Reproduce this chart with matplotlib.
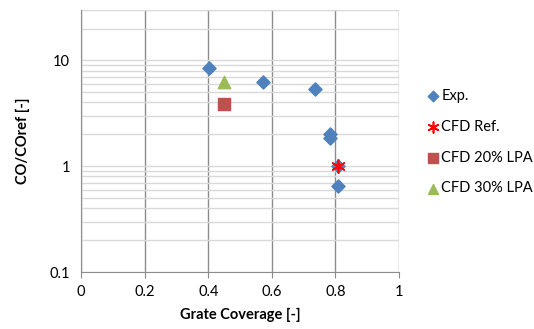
import matplotlib
matplotlib.use("Agg")
import matplotlib.pyplot as plt
from matplotlib.ticker import FixedLocator, NullFormatter

plt.rcParams['font.family'] = ['Lato', 'DejaVu Sans']

exp_x = [0.403, 0.571, 0.736, 0.783, 0.783, 0.807, 0.807]
exp_y = [8.5, 6.2, 5.35, 2.02, 1.83, 1.0, 0.65]
ref_x = [0.807]
ref_y = [1.0]
lpa20_x = [0.451]
lpa20_y = [3.9]
lpa30_x = [0.451]
lpa30_y = [6.3]

fig = plt.figure(figsize=(5.34, 3.29), dpi=100)
ax = fig.add_axes([0.152, 0.173, 0.595, 0.797])

ax.set_yscale('log')
ax.set_xlim(0, 1)
ax.set_ylim(0.1, 30)

ax.scatter(exp_x, exp_y, marker='D', s=45, color='#4F81BD', label='Exp.', zorder=3)
ax.scatter(ref_x, ref_y, marker=(6, 2, 0), s=90, color='#FF0000', linewidths=1.2,
           label='CFD Ref.', zorder=4)
ax.scatter(lpa20_x, lpa20_y, marker='s', s=80, color='#C0504D', label='CFD 20% LPA', zorder=3)
ax.scatter(lpa30_x, lpa30_y, marker='^', s=80, color='#9BBB59', label='CFD 30% LPA', zorder=3)

ax.set_xticks([0, 0.2, 0.4, 0.6, 0.8, 1])
ax.set_xticklabels(['0', '0.2', '0.4', '0.6', '0.8', '1'])
ax.set_yticks([0.1, 1, 10])
ax.set_yticklabels(['0.1', '1', '10'])
minors = [m * d for d in (0.1, 1, 10) for m in range(2, 10)]
minors = [v for v in minors if v <= 30]
ax.yaxis.set_minor_locator(FixedLocator(minors))
ax.yaxis.set_minor_formatter(NullFormatter())

ax.grid(True, axis='x', color='#8C8C8C', linewidth=1.0)
ax.grid(True, axis='y', which='both', color='#D9D9D9', linewidth=1.0)
ax.set_axisbelow(True)

for s in ['top', 'right']:
    ax.spines[s].set_visible(False)
ax.spines['left'].set_color('#8C8C8C')
ax.spines['bottom'].set_color('#8C8C8C')
ax.tick_params(axis='y', which='both', length=0, labelsize=10.5, pad=8)
ax.tick_params(axis='x', length=4, color='#8C8C8C', labelsize=10.5, pad=5)

ax.set_xlabel('Grate Coverage [-]', fontsize=10.5, fontweight='bold', labelpad=7)
ax.set_ylabel('CO/COref [-]', fontsize=10.5, fontweight='bold', labelpad=14)

ax.legend(loc='center left', bbox_to_anchor=(1.06, 0.495), frameon=False, fontsize=10.5,
          handletextpad=0.0, labelspacing=1.15, borderaxespad=0, handlelength=1.2,
          markerscale=0.8)

fig.savefig('out.png', dpi=100)
